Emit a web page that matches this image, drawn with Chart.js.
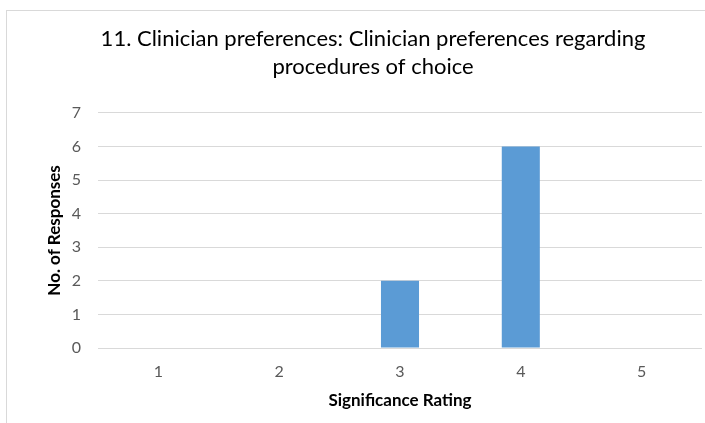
<!DOCTYPE html>
<html>
<head>
<meta charset="utf-8">
<script src="https://cdn.jsdelivr.net/npm/chart.js@4"></script>
<style>
    html, body { margin: 0; padding: 0; background: #fff; overflow: hidden; width: 705px; height: 423px; }
    #box { position: absolute; left: 6px; top: 10px; width: 734px; height: 420px; border: 1px solid #d9d9d9; }
    #chart { display: block; }
</style>
</head>
<body>
<div id="box"><canvas id="chart" width="734" height="413"></canvas></div>
<script>
// Datos del gráfico
const ratings = ['1', '2', '3', '4', '5'];
const responses = [0, 0, 2, 6, 0];
const yTicks = [0, 1, 2, 3, 4, 5, 6, 7];

const titleLines = ['11. Clinician preferences: Clinician preferences regarding', 'procedures of choice'];
const fontFamily = 'Lato, "Open Sans", sans-serif';

new Chart(document.getElementById('chart').getContext('2d'), {
    type: 'bar',
    data: {
        labels: ratings,
        datasets: [{
            label: 'Responses',
            data: responses,
            backgroundColor: '#5b9bd5',
            borderWidth: 0,
            categoryPercentage: 1,
            barPercentage: 0.315
        }]
    },
    options: {
        responsive: false,
        maintainAspectRatio: false,
        animation: false,
        layout: {
            padding: { left: 37, right: 39, top: 0, bottom: 13 }
        },
        plugins: {
            legend: { display: false },
            tooltip: { enabled: false },
            title: {
                display: true,
                text: titleLines,
                color: '#000',
                font: { family: fontFamily, size: 22, weight: 'normal', lineHeight: 1.27 },
                padding: { top: 14, bottom: 32 }
            }
        },
        scales: {
            x: {
                grid: { display: false, drawTicks: false },
                border: { display: false },
                ticks: { color: '#595959', font: { family: fontFamily, size: 16 }, padding: 14 },
                title: {
                    display: true,
                    text: 'Significance Rating',
                    color: '#000',
                    font: { family: fontFamily, size: 17, weight: 'bold' },
                    padding: { top: 0, bottom: 0 }
                },
                afterFit: axis => { axis.height = 63; }
            },
            y: {
                min: 0,
                max: 7,
                afterBuildTicks: axis => { axis.ticks = yTicks.map(v => ({ value: v })); },
                grid: { color: '#d9d9d9', drawTicks: false, lineWidth: 1 },
                border: { display: false },
                ticks: { color: '#595959', font: { family: fontFamily, size: 16 }, padding: 17 },
                title: {
                    display: true,
                    text: 'No. of Responses',
                    color: '#000',
                    font: { family: fontFamily, size: 17, weight: 'bold' },
                    padding: { top: 0, bottom: 0 }
                },
                afterFit: axis => { axis.width = 54; }
            }
        }
    }
});
</script>
</body>
</html>
